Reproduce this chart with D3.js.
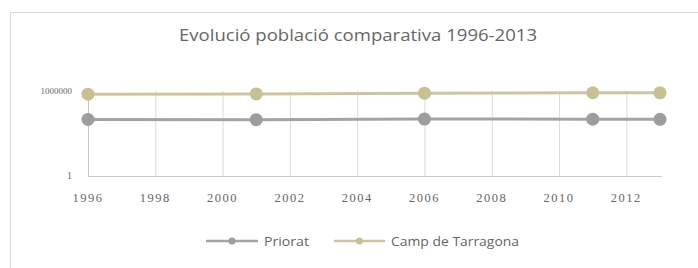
<!DOCTYPE html>
<html>
<head>
<meta charset="utf-8">
<script src="https://cdn.jsdelivr.net/npm/d3@7"></script>
<style>
  body { margin: 0; background: #fff; }
  svg { display: block; }
</style>
</head>
<body>
<div id="chart"></div>
<script>
const width = 698;
const height = 268;

// data (log scale, so rough)
const years = [1996, 2001, 2006, 2011, 2013];
const priorat = [9800, 9400, 10500, 10200, 10000];
const campTarragona = [600000, 620000, 700000, 750000, 740000];
const seriesNames = ['Priorat', 'Camp de Tarragona'];
const seriesColors = ['#a3a3a3', '#cdc59f'];
const markerColors = ['#9d9d9d', '#c8bf93'];
const xTicks = [1996, 1998, 2000, 2002, 2004, 2006, 2008, 2010, 2012];
const yTicks = [1, 1000000];
const title = 'Evolució població comparativa 1996-2013';

const series = [priorat, campTarragona].map((vals, i) => ({
  name: seriesNames[i],
  values: vals.map((v, j) => ({ year: years[j], value: v })),
}));

const svg = d3
  .select('#chart')
  .append('svg')
  .attr('width', width)
  .attr('height', height);

// chart frame
svg
  .append('rect')
  .attr('x', 10.5)
  .attr('y', 12.5)
  .attr('width', 700)
  .attr('height', 300)
  .attr('fill', '#fff')
  .attr('stroke', '#d9d9d9');

// title
svg
  .append('text')
  .attr('x', 358)
  .attr('y', 41)
  .attr('text-anchor', 'middle')
  .attr('font-family', 'Open Sans, sans-serif')
  .attr('font-size', 16)
  .attr('textLength', 358)
  .attr('lengthAdjust', 'spacingAndGlyphs')
  .attr('fill', '#666')
  .text(title);

const x = d3.scaleLinear().domain([1996, 2013]).range([88, 660]);
const y = d3.scaleLog().domain([1, 1000000]).range([176, 91]);

// vertical gridlines
svg
  .append('g')
  .selectAll('line')
  .data(xTicks.slice(1))
  .join('line')
  .attr('x1', (d) => x(d) + 0.5)
  .attr('x2', (d) => x(d) + 0.5)
  .attr('y1', y(1000000))
  .attr('y2', y(1))
  .attr('stroke', '#dcdcdc');

// y axis line + x axis line
svg
  .append('line')
  .attr('x1', x(1996) + 0.5)
  .attr('x2', x(1996) + 0.5)
  .attr('y1', y(1000000))
  .attr('y2', y(1))
  .attr('stroke', '#c8c8c8');

svg
  .append('line')
  .attr('x1', x(1996))
  .attr('x2', x(2013) + 2)
  .attr('y1', y(1) + 0.5)
  .attr('y2', y(1) + 0.5)
  .attr('stroke', '#c8c8c8');

// tick labels
svg
  .append('g')
  .selectAll('text')
  .data(xTicks)
  .join('text')
  .attr('x', (d) => x(d))
  .attr('y', 202)
  .attr('text-anchor', 'middle')
  .attr('font-family', 'Liberation Serif, serif')
  .attr('font-size', 12.5)
  .attr('letter-spacing', 1.5)
  .attr('fill', '#666')
  .text((d) => d);

svg
  .append('g')
  .selectAll('text')
  .data(yTicks)
  .join('text')
  .attr('x', 72)
  .attr('y', (d) => y(d) + 3)
  .attr('text-anchor', 'end')
  .attr('font-family', 'Liberation Serif, serif')
  .attr('font-size', (d) => (d === 1 ? 10 : 9))
  .attr('fill', '#666')
  .text((d) => d);

// lines and markers
const line = d3
  .line()
  .x((d) => x(d.year))
  .y((d) => y(d.value));

series.forEach((s, i) => {
  svg
    .append('path')
    .datum(s.values)
    .attr('d', line)
    .attr('fill', 'none')
    .attr('stroke', seriesColors[i])
    .attr('stroke-width', 3);

  svg
    .append('g')
    .selectAll('circle')
    .data(s.values)
    .join('circle')
    .attr('cx', (d) => x(d.year))
    .attr('cy', (d) => y(d.value))
    .attr('r', 6.5)
    .attr('fill', markerColors[i]);
});

// legend
const legendItems = [
  { x0: 206, x1: 258, tx: 264 },
  { x0: 334, x1: 385, tx: 391 },
];
const legend = svg.append('g');
series.forEach((s, i) => {
  const it = legendItems[i];
  legend
    .append('line')
    .attr('x1', it.x0)
    .attr('x2', it.x1)
    .attr('y1', 241)
    .attr('y2', 241)
    .attr('stroke', seriesColors[i])
    .attr('stroke-width', 2.5);
  legend
    .append('circle')
    .attr('cx', (it.x0 + it.x1) / 2)
    .attr('cy', 241)
    .attr('r', 3.5)
    .attr('fill', markerColors[i]);
  legend
    .append('text')
    .attr('x', it.tx)
    .attr('y', 246)
    .attr('font-family', 'Open Sans, sans-serif')
    .attr('font-size', 13.5)
    .attr('textLength', i === 0 ? 45 : 128)
    .attr('lengthAdjust', 'spacingAndGlyphs')
    .attr('fill', '#666')
    .text(s.name);
});
</script>
</body>
</html>
